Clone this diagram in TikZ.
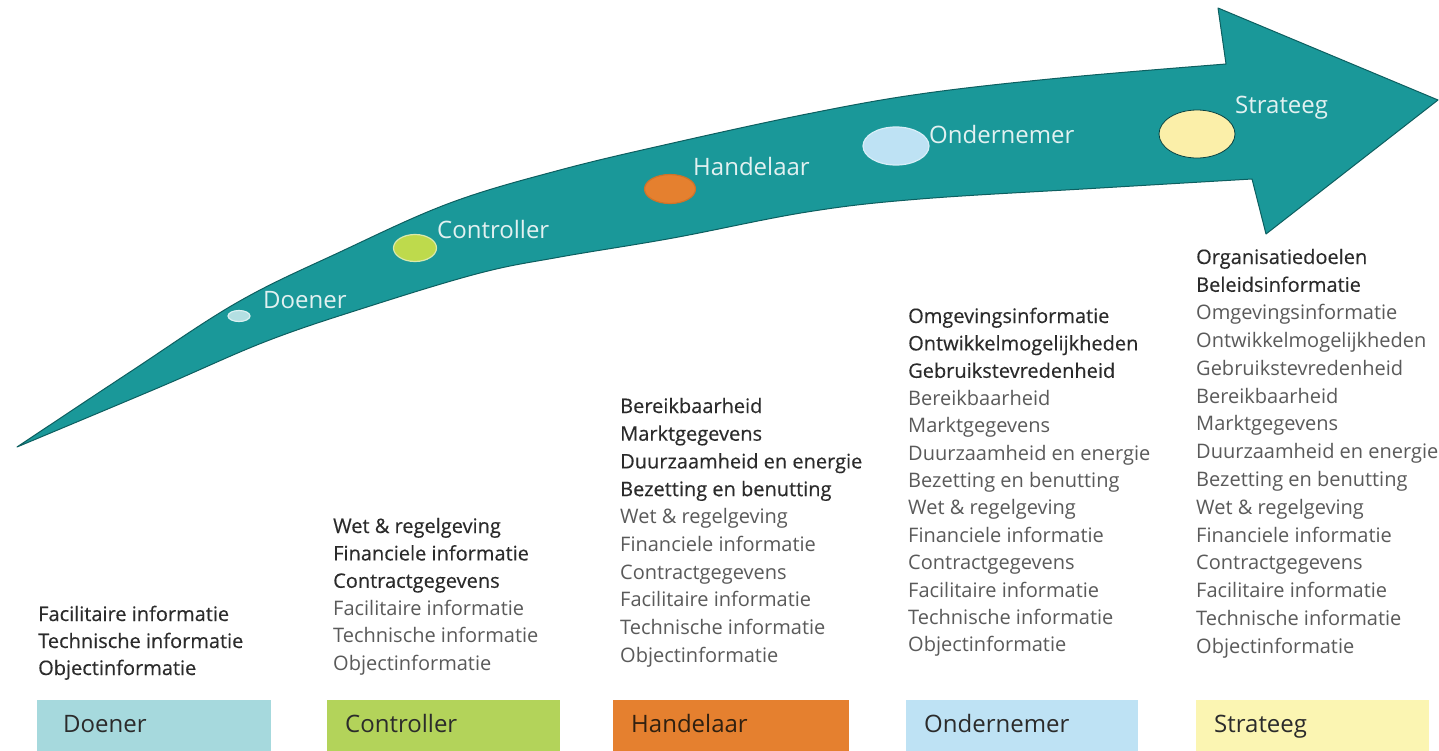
\documentclass[tikz,border=0pt]{standalone}
\usepackage{fontspec}
\setmainfont{Open Sans}
\newfontfamily\darkfont{Open Sans}[FakeBold=0.3]
\usetikzlibrary{shapes.geometric}
\definecolor{arrowfill}{HTML}{1A9899}
\definecolor{arrowline}{HTML}{0D5F60}
\definecolor{lbltext}{HTML}{E2F1F1}
\definecolor{greytext}{HTML}{5A5A5A}
\definecolor{darktext}{HTML}{2B2B2B}
\definecolor{cDoener}{HTML}{A6D9DD}
\definecolor{cController}{HTML}{B3D35A}
\definecolor{cHandelaar}{HTML}{E5802F}
\definecolor{cOndernemer}{HTML}{BEE2F4}
\definecolor{cStrateeg}{HTML}{FBF5B2}
\tikzset{
  lbl/.style={anchor=base west, inner sep=0, font=\fontsize{24}{28}\selectfont, text=lbltext},
  dot/.style={ellipse, inner sep=0, line width=1.2pt},
  item/.style={anchor=base west, inner sep=0, font=\fontsize{20}{24}\selectfont, text=greytext},
  newitem/.style={anchor=base west, inner sep=0, font=\fontsize{20}{24}\selectfont\darkfont, text=darktext},
  rolebox/.style={anchor=north west, minimum height=52, inner ysep=0, text height=17, text depth=5,
    align=left, font=\fontsize{24}{28}\selectfont, text=darktext}
}
\begin{document}
\begin{tikzpicture}[x=1pt,y=-1pt]
\useasboundingbox (0,0) rectangle (1439,750);
\fill[white] (0,0) rectangle (1439,750);

% curved arrow
\filldraw[fill=arrowfill, draw=arrowline, line width=1pt, line join=round]
  (17,447) -- plot[smooth,tension=0.6] coordinates {(17,447) (130,372) (238,302) (340,252) (450,203) (560,170) (673,143) (807,114) (920,94) (1060,78) (1226,64)}
  -- (1218,8) -- (1438,100) -- (1266,234) -- (1252,179)
  -- plot[smooth,tension=0.6] coordinates {(1252,179) (1100,188) (920,199) (807,212) (673,238) (560,257) (480,273) (367,307) (267,341) (160,387) (17,447)}
  -- cycle;

% stage dots on the arrow
\node[dot, minimum width=22, minimum height=11, fill=cDoener!85!white, draw=cDoener!40!white] (eD) at (239,316) {};
\node[dot, minimum width=43, minimum height=27, fill=cController!85!yellow, draw=cController!50!white] (eC) at (415,248) {};
\node[dot, minimum width=51, minimum height=29, fill=cHandelaar, draw=cHandelaar!90!black] (eH) at (670,189) {};
\node[dot, minimum width=66, minimum height=38, fill=cOndernemer, draw=cOndernemer!60!white] (eO) at (896,146) {};
\node[dot, minimum width=76, minimum height=48, fill=cStrateeg!95!orange, draw=arrowline!70!black, line width=0.8pt] (eS) at (1197,134) {};

% labels on the arrow
\node[lbl] (lD) at (263,308) {Doener};
\node[lbl] (lC) at (437,238) {Controller};
\node[lbl] (lH) at (693,175) {Handelaar};
\node[lbl] (lO) at (929,143) {Ondernemer};
\node[lbl] (lS) at (1235,113) {Strateeg};

% column: Doener
\foreach \t [count=\i from 0] in {Facilitaire informatie, Technische informatie, Objectinformatie}
  \node[newitem] (d\i) at (38,{621+\i*27}) {\t};

% column: Controller
\foreach \t [count=\i from 0] in {Wet \& regelgeving, Financiele informatie, Contractgegevens}
  \node[newitem] (c\i) at (333,{533+\i*27.4}) {\t};
\foreach \t [count=\i from 3] in {Facilitaire informatie, Technische informatie, Objectinformatie}
  \node[item] (c\i) at (333,{533+\i*27.4}) {\t};

% column: Handelaar
\foreach \t [count=\i from 0] in {Bereikbaarheid, Marktgegevens, Duurzaamheid en energie, Bezetting en benutting}
  \node[newitem] (h\i) at (620,{413+\i*27.7}) {\t};
\foreach \t [count=\i from 4] in {Wet \& regelgeving, Financiele informatie, Contractgegevens, Facilitaire informatie, Technische informatie, Objectinformatie}
  \node[item] (h\i) at (620,{413+\i*27.7}) {\t};

% column: Ondernemer
\foreach \t [count=\i from 0] in {Omgevingsinformatie, Ontwikkelmogelijkheden, Gebruikstevredenheid}
  \node[newitem] (o\i) at (908,{323+\i*27.4}) {\t};
\foreach \t [count=\i from 3] in {Bereikbaarheid, Marktgegevens, Duurzaamheid en energie, Bezetting en benutting, Wet \& regelgeving, Financiele informatie, Contractgegevens, Facilitaire informatie, Technische informatie, Objectinformatie}
  \node[item] (o\i) at (908,{323+\i*27.4}) {\t};

% column: Strateeg
\foreach \t [count=\i from 0] in {Organisatiedoelen, Beleidsinformatie}
  \node[newitem] (s\i) at (1196,{264+\i*27.8}) {\t};
\foreach \t [count=\i from 2] in {Omgevingsinformatie, Ontwikkelmogelijkheden, Gebruikstevredenheid, Bereikbaarheid, Marktgegevens, Duurzaamheid en energie, Bezetting en benutting, Wet \& regelgeving, Financiele informatie, Contractgegevens, Facilitaire informatie, Technische informatie, Objectinformatie}
  \node[item] (s\i) at (1196,{264+\i*27.8}) {\t};

% role boxes
\node[rolebox, fill=cDoener, inner xsep=26, text width=182] (bD) at (37,700) {Doener};
\node[rolebox, fill=cController, inner xsep=18, text width=197] (bC) at (327,700) {Controller};
\node[rolebox, fill=cHandelaar, inner xsep=18, text width=200, text=black!75!brown] (bH) at (613,700) {Handelaar};
\node[rolebox, fill=cOndernemer, inner xsep=18, text width=196] (bO) at (906,700) {Ondernemer};
\node[rolebox, fill=cStrateeg, inner xsep=18, text width=197] (bS) at (1196,700) {Strateeg};
\end{tikzpicture}
\end{document}
